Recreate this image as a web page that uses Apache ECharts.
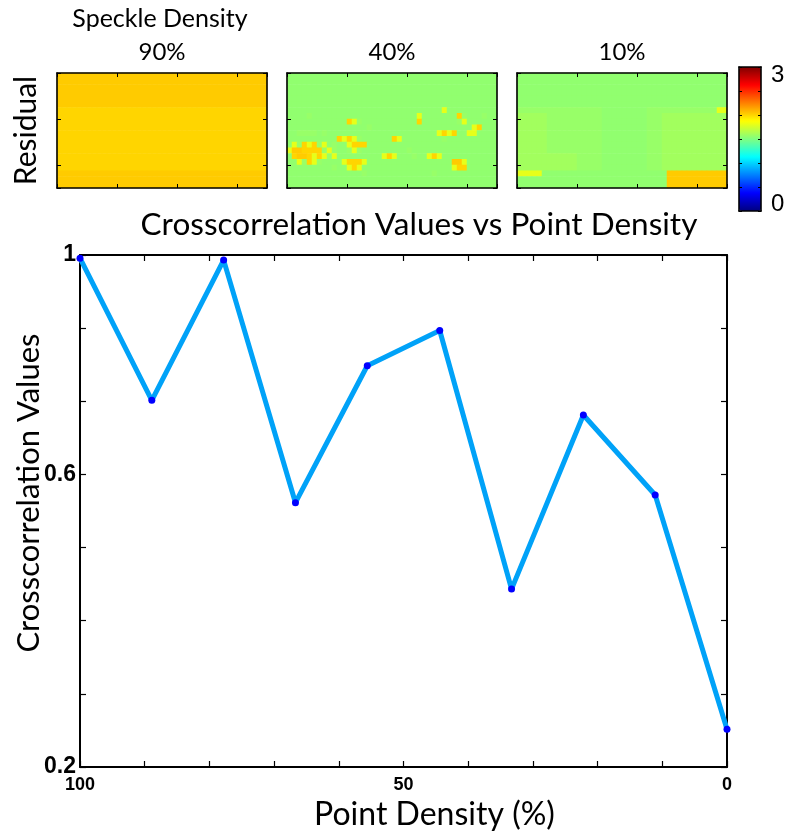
<!DOCTYPE html>
<html>
<head>
<meta charset="utf-8">
<script src="https://cdn.jsdelivr.net/npm/echarts@6/dist/echarts.min.js"></script>
<style>
  html, body { margin: 0; padding: 0; background: #fff; }
  #chart { width: 793px; height: 833px; }
</style>
</head>
<body>
<div id="chart"></div>
<script>
// Crosscorrelation measured at each point density (%)
const pointDensity = [100, 88.9, 77.8, 66.7, 55.6, 44.4, 33.3, 22.2, 11.1, 0];
const crossCorr = [0.995, 0.773, 0.992, 0.613, 0.827, 0.882, 0.478, 0.750, 0.625, 0.259];

// Axis ticks and their labels
const xLabelValues = [100, 50, 0];
const xTickLabels = ['100', '50', '0'];
const yTickValues = [0.2, 0.3143, 0.4286, 0.5429, 0.6571, 0.7714, 0.8857, 1.0];
const yLabelValues = [0.2, 0.6571, 1.0];
const yTickLabels = ['0.2', '0.6', '1'];
const cbLabelValues = [3, 0];
const cbTickLabels = ['3', '0'];

const panelTitles = ['90%', '40%', '10%'];

// Residual maps on a coarse 20 x 42 cell grid; each character is a residual level
const residualLevels = { '.': 1.55, ',': 1.57, 'y': 1.6, 'm': 1.8, 'o': 2.0, 's': 2.0, 'G': 2.03 };

const residual90 = [
  'GGGGGGGGGGGGGGGGGGGGGGGGGGGGGGGGGGGGGGGGGG',
  'GGGGGGGGGGGGGGGGGGGGGGGGGGGGGGGGGGGGGGGGGG',
  'GGGGGGGGGGGGGGGGGGGGGGGGGGGGGGGGGGGGGGGGGG',
  'GGGGGGGGGGGGGGGGGGGGGGGGGGGGGGGGGGGGGGGGGG',
  'GGGGGGGGGGGGGGGGGGGGGGGGGGGGGGGGGGGGGGGGGG',
  'GGGGGGGGGGGGGGGGGGGGGGGGGGGGGGGGGGGGGGGGGG',
  'ssssssssssssssssssssssssssssssssssssssssss',
  'ssssssssssssssssssssssssssssssssssssssssss',
  'ssssssssssssssssssssssssssssssssssssssssss',
  'ssssssssssssssssssssssssssssssssssssssssss',
  'ssssssssssssssssssssssssssssssssssssssssss',
  'ssssssssssssssssssssssssssssssssssssssssss',
  'ssssssssssssssssssssssssssssssssssssssssss',
  'ssssssssssssssssssssssssssssssssssssssssss',
  'ssssssssssssssssssssssssssssssssssssssssss',
  'ssssssssssssssssssssssssssssssssssssssssss',
  'ssssssssssssssssssssssssssssssssssssssssss',
  'GGGGGGGGGGGGGGGGGGGGGGGGGGGGGGGGGGGGGGGGGG',
  'GGGGGGGGGGGGGGGGGGGGGGGGGGGGGGGGGGGGGGGGGG',
  'GGGGGGGGGGGGGGGGGGGGGGGGGGGGGGGGGGGGGGGGGG'
];

const residual40 = [
  '..........................................',
  '..........................................',
  '..........................................',
  '..........................................',
  '..........................................',
  '..........................................',
  '...............................m..........',
  '....,.....................m.......o,...,..',
  '............om,...........o.......,m......',
  '................,....................mo...',
  '..,,,,.,......................momo..mm....',
  '..........omom,......om........,..........',
  '.m,omo,m.,..mooo..........................',
  'mGGoooo,m,..,m,.........,.................',
  '.oGGomom,m.........mom...,..mom...........',
  '..m,om,....mooom.................GGm......',
  '.........,..mom..................moo......',
  '...............,.............,............',
  '..........................................',
  '..........................................'
];

const residual10 = [
  '..........................................',
  '..........................................',
  '..........................................',
  '..........................................',
  '..........................................',
  '..........................................',
  ',,,,,,,,,,,,,,,,,.........,,,,,,,,,,,,,,mm',
  'yyyyyy,,,,,,,,,,,.........,,,yyyyyyyyyyyyy',
  'yyyyyy,,,,,,,,,,,.........,,,yyyyyyyyyyyyy',
  'yyyyyy,,,,,,,,,,,.........,,,yyyyyyyyyyyyy',
  'yyyyyy,,,,,,,,,,,.........,,,yyyyyyyyyyyyy',
  'yyyyyy,,,,,,,,,,,.........,,,yyyyyyyyyyyyy',
  'yyyyyy,,,,,,,,,,,.........,,,yyyyyyyyyyyyy',
  'yyyyyy,,,,,,,,,,,.........,,,yyyyyyyyyyyyy',
  'yyyyyyyyyyyy,,,,,.........,,,yyyyyyyyyyyyy',
  'yyyyyyyyyyyy,,,,,.........,,,yyyyyyyyyyyyy',
  'yyyyyyyyyyyy,,,,,.........,,,yyyyyyyyyyyyy',
  'mmmmm.........................GGGGGGGGGGGG',
  '..............................GGGGGGGGGGGG',
  '..............................GGGGGGGGGGGG'
];

const residualMaps = [residual90, residual40, residual10];

// jet colour map
const jet = ['#000080', '#0000FF', '#0080FF', '#00FFFF', '#80FF80', '#FFFF00', '#FF8000', '#FF0000', '#800000'];

const COLS = 42, ROWS = 20;
function toCells(rows) {
  const out = [];
  rows.forEach((row, r) => {
    const s = row.padEnd(COLS, '.').slice(0, COLS);
    for (let c = 0; c < COLS; c++) out.push([c, r, residualLevels[s[c]]]);
  });
  return out;
}

const TICK_FONT = 'Liberation Sans, Arial, sans-serif';
const TEXT_FONT = 'Lato, sans-serif';
const BLACK = '#000';

const panelLefts = [57, 287, 517];
const panelTop = 73, panelW = 210, panelH = 115;

const grids = [];
const xAxes = [];
const yAxes = [];
const series = [];

function makeGrid(left, top, width, height) {
  return { left, top, width, height, containLabel: false, outerBoundsMode: 'none' };
}

// heatmap grids (0..2)
panelLefts.forEach((left, i) => {
  grids.push(makeGrid(left, panelTop, panelW, panelH));
  xAxes.push({ type: 'category', gridIndex: i, show: false,
    data: Array.from({ length: COLS }, (_, k) => String(k)) });
  yAxes.push({ type: 'category', gridIndex: i, show: false, inverse: true,
    data: Array.from({ length: ROWS }, (_, k) => String(k)) });
  series.push({
    type: 'heatmap', xAxisIndex: i, yAxisIndex: i,
    data: toCells(residualMaps[i]),
    itemStyle: { borderWidth: 0 },
    emphasis: { disabled: true },
    silent: true
  });
});

// frame grids with box ticks (3..5)
const frameLine = { show: true, onZero: false, lineStyle: { color: BLACK, width: 1.6 } };
const frameTick = { show: true, inside: true, length: 4, lineStyle: { color: BLACK, width: 1 } };
panelLefts.forEach((left, i) => {
  const g = 3 + i;
  grids.push(makeGrid(left, panelTop, panelW, panelH));
  xAxes.push({ type: 'value', gridIndex: g, position: 'bottom', min: 0, max: 350, interval: 100,
    axisLine: frameLine, axisTick: frameTick, axisLabel: { show: false }, splitLine: { show: false }, z: 5 });
  xAxes.push({ type: 'value', gridIndex: g, position: 'top', min: 0, max: 350, interval: 100,
    axisLine: frameLine, axisTick: frameTick, axisLabel: { show: false }, splitLine: { show: false }, z: 5,
    name: panelTitles[i], nameLocation: 'middle', nameGap: 9,
    nameTextStyle: { fontFamily: TEXT_FONT, fontSize: 24, color: BLACK } });
  yAxes.push({ type: 'value', gridIndex: g, position: 'left', min: 0, max: 250, interval: 100, inverse: true,
    axisLine: frameLine, axisTick: frameTick, axisLabel: { show: false }, splitLine: { show: false }, z: 5,
    name: i === 0 ? 'Residual' : '', nameLocation: 'middle', nameGap: 16,
    nameTextStyle: { fontFamily: TEXT_FONT, fontSize: 30, color: BLACK } });
  yAxes.push({ type: 'value', gridIndex: g, position: 'right', min: 0, max: 250, interval: 100, inverse: true,
    axisLine: frameLine, axisTick: frameTick, axisLabel: { show: false }, splitLine: { show: false }, z: 5 });
});

// main plot grid (6)
grids.push(makeGrid(80, 255, 647, 512));
const mainLine = { show: true, onZero: false, lineStyle: { color: BLACK, width: 2 } };
const mainTick = { show: true, inside: true, length: 6, lineStyle: { color: BLACK, width: 1.2 } };
const mainX = xAxes.length;
xAxes.push({ type: 'value', gridIndex: 6, position: 'bottom', min: 0, max: 100, interval: 10, inverse: true,
  axisLine: mainLine, axisTick: mainTick, splitLine: { show: false },
  axisLabel: {
    customValues: xLabelValues, margin: 9,
    fontFamily: TICK_FONT, fontSize: 18, fontWeight: 'bold', color: BLACK,
    formatter: v => { const k = xLabelValues.indexOf(v); return k >= 0 ? xTickLabels[k] : ''; }
  },
  name: 'Point Density (%)', nameLocation: 'middle', nameGap: 20,
  nameTextStyle: { fontFamily: TEXT_FONT, fontSize: 32, color: BLACK, padding: [0, 0, 0, 62] } });
xAxes.push({ type: 'value', gridIndex: 6, position: 'top', min: 0, max: 100, interval: 10, inverse: true,
  axisLine: mainLine, axisTick: mainTick, axisLabel: { show: false }, splitLine: { show: false } });
const mainY = yAxes.length;
const yLabelText = v => { const k = yLabelValues.findIndex(t => Math.abs(t - v) < 1e-6); return k >= 0 ? yTickLabels[k] : ''; };
yAxes.push({ type: 'value', gridIndex: 6, position: 'left', min: 0.2, max: 1,
  axisLine: mainLine, splitLine: { show: false },
  axisTick: Object.assign({ customValues: yTickValues }, mainTick),
  axisLabel: {
    customValues: yLabelValues, margin: 4,
    fontFamily: TICK_FONT, fontSize: 23, fontWeight: 'bold', color: BLACK,
    formatter: yLabelText
  },
  name: 'Crosscorrelation Values', nameLocation: 'middle', nameGap: 36, nameMoveOverlap: false,
  nameTextStyle: { fontFamily: TEXT_FONT, fontSize: 31, color: BLACK, padding: [0, 0, 0, 36] } });
yAxes.push({ type: 'value', gridIndex: 6, position: 'right', min: 0.2, max: 1,
  axisLine: mainLine, splitLine: { show: false },
  axisTick: Object.assign({ customValues: yTickValues }, mainTick),
  axisLabel: { show: false } });

series.push({
  type: 'line', xAxisIndex: mainX, yAxisIndex: mainY,
  data: pointDensity.map((x, i) => [x, crossCorr[i]]),
  symbol: 'circle', symbolSize: 7, showAllSymbol: true,
  lineStyle: { color: '#00A2F8', width: 5 },
  itemStyle: { color: '#0000FF' },
  clip: false, silent: true, z: 3
});

// colour bar frame grid (7)
grids.push(makeGrid(739, 67, 22, 144));
const cbLine = { show: true, onZero: false, lineStyle: { color: BLACK, width: 1.6 } };
const cbTick = { show: true, inside: true, length: 3, lineStyle: { color: BLACK, width: 1 } };
xAxes.push({ type: 'value', gridIndex: 7, position: 'bottom', min: 0, max: 1,
  axisLine: cbLine, axisTick: { show: false }, axisLabel: { show: false }, splitLine: { show: false }, z: 6 });
xAxes.push({ type: 'value', gridIndex: 7, position: 'top', min: 0, max: 1,
  axisLine: cbLine, axisTick: { show: false }, axisLabel: { show: false }, splitLine: { show: false }, z: 6 });
yAxes.push({ type: 'value', gridIndex: 7, position: 'left', min: 0, max: 3, interval: 0.5,
  axisLine: cbLine, axisTick: cbTick, axisLabel: { show: false }, splitLine: { show: false }, z: 6 });
yAxes.push({ type: 'value', gridIndex: 7, position: 'right', min: 0, max: 3, interval: 0.5,
  axisLine: cbLine, axisTick: cbTick, splitLine: { show: false }, z: 6,
  axisLabel: {
    margin: 10, color: BLACK, fontFamily: TICK_FONT, fontSize: 24,
    formatter: v => {
      const k = cbLabelValues.indexOf(v);
      if (k < 0) return '';
      return v === cbLabelValues[0] ? '{hi|' + cbTickLabels[k] + '}' : '{lo|' + cbTickLabels[k] + '}';
    },
    rich: {
      hi: { fontFamily: TICK_FONT, fontSize: 24, color: BLACK, padding: [16, 0, 0, 0] },
      lo: { fontFamily: TICK_FONT, fontSize: 24, color: BLACK, padding: [0, 0, 14, 0] }
    }
  } });

const chart = echarts.init(document.getElementById('chart'), null, { renderer: 'canvas' });
chart.setOption({
  backgroundColor: '#fff',
  animation: false,
  title: [
    { text: 'Speckle Density', left: 160, textAlign: 'center', top: 6, padding: 0,
      textStyle: { fontFamily: TEXT_FONT, fontSize: 25, fontWeight: 'normal', color: BLACK } },
    { text: 'Crosscorrelation Values vs Point Density', left: 419, textAlign: 'center', top: 209, padding: 0,
      textStyle: { fontFamily: TEXT_FONT, fontSize: 31.5, fontWeight: 'normal', color: BLACK } }
  ],
  visualMap: {
    type: 'continuous', min: 0, max: 3, seriesIndex: [0, 1, 2],
    inRange: { color: jet },
    orient: 'vertical', left: 739, top: 67, padding: 0,
    itemWidth: 22, itemHeight: 144,
    calculable: false, hoverLink: false, text: null, showLabel: false, z: 1
  },
  grid: grids,
  xAxis: xAxes,
  yAxis: yAxes,
  series
});
</script>
</body>
</html>
